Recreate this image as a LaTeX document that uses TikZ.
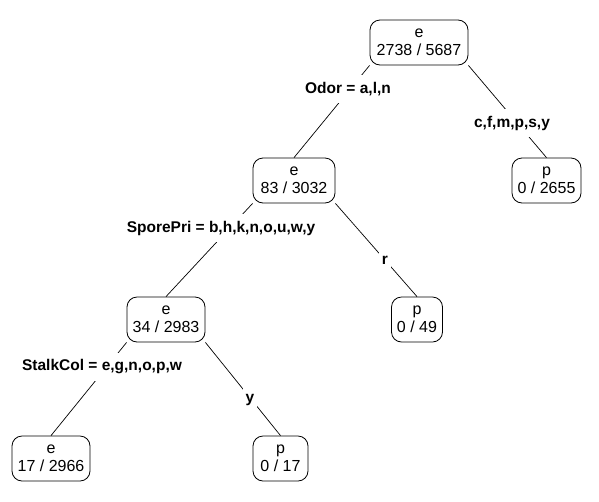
\documentclass[tikz,border=0pt]{standalone}
\usepackage{fontspec}
\setmainfont{Liberation Sans}
\pgfdeclarelayer{bg}
\pgfsetlayers{bg,main}
\begin{document}
\begin{tikzpicture}[x=1pt,y=-1pt,
  tn/.style={draw, rounded corners=10pt, fill=white, minimum height=45pt, inner sep=0pt,
             align=center, font=\fontsize{16}{17.5}\selectfont, line width=0.8pt},
  lab/.style={fill=white, inner xsep=2.5pt, inner ysep=0pt, minimum height=28pt,
              font=\fontsize{15.5}{17}\selectfont\bfseries},
  br/.style={line width=0.7pt}]
\useasboundingbox (0,0) rectangle (599,501);
% tree nodes
\node[tn, minimum width=98pt] (n1) at (419,42.5) {e\\2738 / 5687};
\node[tn, minimum width=82pt] (n2) at (294,180.5) {e\\83 / 3032};
\node[tn, minimum width=69pt] (n3) at (546.5,180.5) {p\\0 / 2655};
\node[tn, minimum width=78pt] (n4) at (166,319.5) {e\\34 / 2983};
\node[tn, minimum width=51pt] (n5) at (417,319.5) {p\\0 / 49};
\node[tn, minimum width=78pt] (n6) at (51,458.5) {e\\17 / 2966};
\node[tn, minimum width=55pt] (n7) at (280.5,458.5) {p\\0 / 17};
% branches
\begin{pgfonlayer}{bg}
\draw[br] (n1.south west) -- (n2.north);
\draw[br] (n1.south east) -- (n3.north);
\draw[br] (n2.south west) -- (n4.north);
\draw[br] (n2.south east) -- (n5.north);
\draw[br] (n4.south west) -- (n6.north);
\draw[br] (n4.south east) -- (n7.north);
\end{pgfonlayer}
% split labels
\node[lab] (l1) at (348,89) {Odor = a,l,n};
\node[lab] (l2) at (512,123) {c,f,m,p,s,y};
\node[lab] (l3) at (221,228) {SporePri = b,h,k,n,o,u,w,y};
\node[lab] (l4) at (385,260) {r};
\node[lab] (l5) at (102,367) {StalkCol = e,g,n,o,p,w};
\node[lab] (l6) at (250,400) {y};
\end{tikzpicture}
\end{document}
